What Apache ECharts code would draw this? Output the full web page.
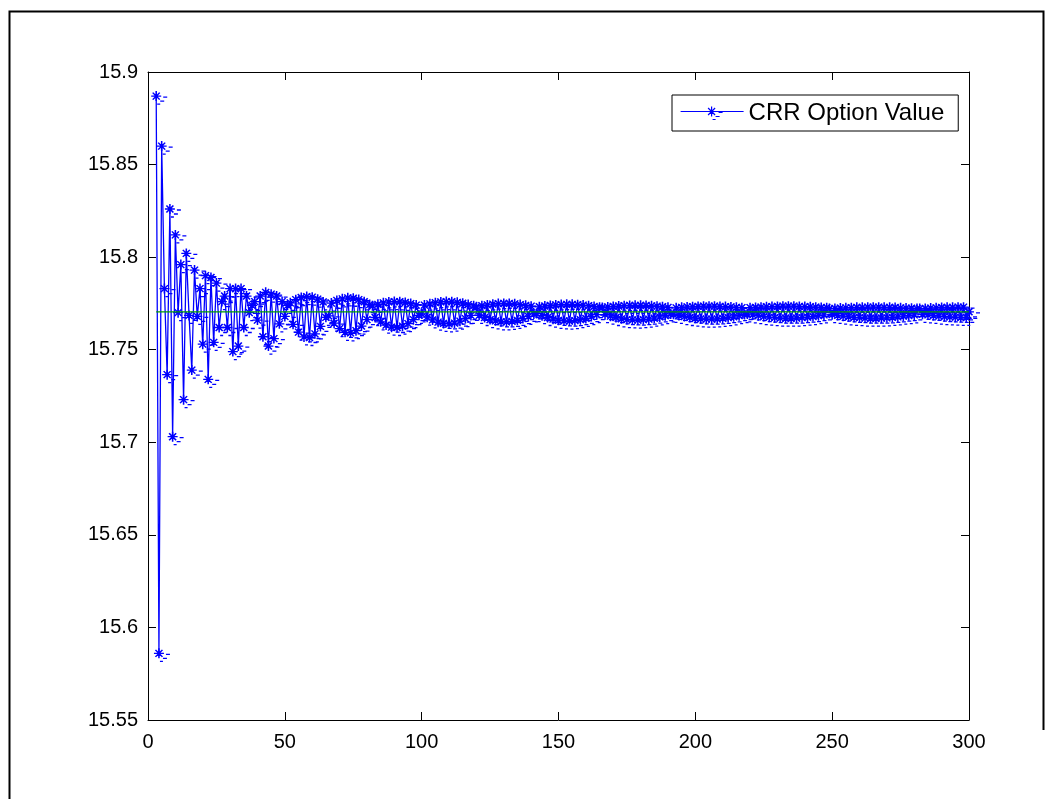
<!DOCTYPE html>
<html>
<head>
<meta charset="utf-8">
<script src="https://cdn.jsdelivr.net/npm/echarts@6/dist/echarts.min.js"></script>
<style>
html,body{margin:0;padding:0;background:#fff;}
#chart{width:1059px;height:799px;}
</style>
</head>
<body>
<div id="chart"></div>
<script>
// ---- data ----
const seriesName = 'CRR Option Value';
const firstStep = 3;           // first number of steps plotted
const lastStep = 300;
const blackScholesValue = 15.7704;  // green reference line
const xTickLabels = ['0', '50', '100', '150', '200', '250', '300'];
const yTickLabels = ['15.55', '15.6', '15.65', '15.7', '15.75', '15.8', '15.85', '15.9'];
const crrValues = [
  15.887, 15.586, 15.860, 15.783, 15.7365, 15.826, 15.703, 15.812,
  15.770, 15.796, 15.723, 15.802, 15.7685, 15.739, 15.793, 15.768, 15.783, 15.753,
  15.790, 15.734, 15.789, 15.754, 15.786, 15.762, 15.776, 15.779, 15.762, 15.783,
  15.749, 15.783, 15.752, 15.783, 15.762, 15.779, 15.770, 15.774, 15.776, 15.766,
  15.779, 15.757, 15.781, 15.752, 15.780, 15.756, 15.779, 15.764, 15.776, 15.768,
  15.774, 15.7753, 15.7637, 15.777, 15.7595, 15.7782, 15.7569, 15.7787, 15.7566, 15.7784,
  15.7586, 15.7773, 15.7626, 15.7758, 15.7675, 15.7683, 15.7752, 15.7643, 15.7766, 15.7614,
  15.7775, 15.7594, 15.778, 15.7591, 15.7778, 15.7603, 15.7771, 15.7628, 15.7759, 15.7663,
  15.7744, 15.7737, 15.7674, 15.7745, 15.7651, 15.7753, 15.7633, 15.7758, 15.7622, 15.776,
  15.762, 15.7759, 15.7627, 15.7755, 15.7641, 15.7749, 15.7662, 15.7741, 15.7686, 15.7694,
  15.7741, 15.7676, 15.7748, 15.7661, 15.7754, 15.7649, 15.7758, 15.7642, 15.776, 15.764,
  15.7759, 15.7644, 15.7756, 15.7654, 15.7751, 15.7668, 15.7744, 15.7685, 15.7737, 15.7732,
  15.7686, 15.7738, 15.7674, 15.7742, 15.7663, 15.7746, 15.7656, 15.7749, 15.7651, 15.775,
  15.765, 15.775, 15.7653, 15.7748, 15.7659, 15.7744, 15.7668, 15.774, 15.768, 15.7735,
  15.7693, 15.7695, 15.7732, 15.7684, 15.7736, 15.7674, 15.7739, 15.7665, 15.7742, 15.7659,
  15.7744, 15.7656, 15.7745, 15.7655, 15.7745, 15.7657, 15.7743, 15.7662, 15.7741, 15.7669,
  15.7738, 15.7679, 15.7734, 15.7689, 15.773, 15.7728, 15.7689, 15.7731, 15.7681, 15.7734,
  15.7674, 15.7736, 15.7667, 15.7738, 15.7663, 15.7739, 15.7661, 15.774, 15.766, 15.774,
  15.7662, 15.7739, 15.7665, 15.7737, 15.767, 15.7735, 15.7677, 15.7732, 15.7684, 15.7729,
  15.7693, 15.7691, 15.7726, 15.7685, 15.7729, 15.7679, 15.7731, 15.7674, 15.7732, 15.767,
  15.7734, 15.7667, 15.7735, 15.7665, 15.7735, 15.7665, 15.7735, 15.7666, 15.7734, 15.7669,
  15.7733, 15.7673, 15.7731, 15.7678, 15.7729, 15.7684, 15.7727, 15.769, 15.7693, 15.7727,
  15.7688, 15.7728, 15.7684, 15.773, 15.7679, 15.7732, 15.7676, 15.7733, 15.7673, 15.7734,
  15.7671, 15.7735, 15.767, 15.7735, 15.767, 15.7735, 15.7671, 15.7734, 15.7673, 15.7733,
  15.7676, 15.7732, 15.7679, 15.773, 15.7684, 15.7728, 15.7688, 15.7727, 15.7722, 15.7689,
  15.7723, 15.7685, 15.7725, 15.7681, 15.7726, 15.7678, 15.7727, 15.7675, 15.7729, 15.7673,
  15.7729, 15.7671, 15.773, 15.767, 15.773, 15.767, 15.773, 15.7671, 15.7729, 15.7672,
  15.7729, 15.7675, 15.7728, 15.7677, 15.7726, 15.7681, 15.7725, 15.7684, 15.7724, 15.7688,
  15.7722, 15.7722, 15.7691, 15.7723, 15.7688, 15.7725, 15.7685, 15.7726, 15.7682, 15.7728,
  15.7679, 15.7729, 15.7677, 15.7729, 15.7676, 15.773, 15.7675, 15.773, 15.7675, 15.7705
];

// ---- build series data ----
const crrData = crrValues.map((v, i) => [firstStep + i, v]);
const bsData = [[firstStep, blackScholesValue], [lastStep, blackScholesValue]];

// MATLAB-like '*' marker (with the small dash artefacts of the original rendering)
const starPath = 'path://M0 -5L0 5M-5 0L5 0M-3.5 -3.5L3.5 3.5M-3.5 3.5L3.5 -3.5M7 1L11 1M4 5L8 5M1 8L4 8';
// legend icon: line sample with the marker in it (63 x 13)
const legendIconPath = 'path://M0 5L63 5M31 0L31 10M26 5L36 5M27.5 1.5L34.5 8.5M27.5 8.5L34.5 1.5M38 6L42 6M35 10L39 10M32 13L35 13';

const X0 = 0, X1 = 300, XI = 50;
const Y0 = 15.55, Y1 = 15.9, YI = 0.05;
const font = 'Liberation Sans, Arial, sans-serif';
const yFmt = v => yTickLabels[Math.round((v - Y0) / YI)] || '';
const xFmt = v => xTickLabels[Math.round((v - X0) / XI)] || '';

const chart = echarts.init(document.getElementById('chart'), null, {renderer: 'canvas'});
const axisCommon = {
  type: 'value', min: X0, max: X1, interval: XI,
  axisLine: {show: true, onZero: false, lineStyle: {color: '#000', width: 1}},
  axisTick: {show: true, inside: true, length: 8, lineStyle: {color: '#000', width: 1}},
  splitLine: {show: false}
};
chart.setOption({
  animation: false,
  backgroundColor: '#fff',
  grid: {left: 148, top: 72, width: 821, height: 648, show: false},
  xAxis: [
    Object.assign({}, axisCommon, {position: 'bottom',
      axisLabel: {show: true, formatter: xFmt, color: '#000', fontSize: 20, fontFamily: font, margin: 12}}),
    Object.assign({}, axisCommon, {position: 'top', axisLabel: {show: false}})
  ],
  yAxis: [
    Object.assign({}, axisCommon, {min: Y0, max: Y1, interval: YI, position: 'left',
      axisLabel: {show: true, formatter: yFmt, color: '#000', fontSize: 20, fontFamily: font, margin: 10}}),
    Object.assign({}, axisCommon, {min: Y0, max: Y1, interval: YI, position: 'right', axisLabel: {show: false}})
  ],
  legend: {
    data: [{name: seriesName, icon: legendIconPath}],
    left: 672, top: 95,
    orient: 'vertical',
    backgroundColor: '#fff',
    borderColor: '#000', borderWidth: 1,
    padding: [6, 14, 6, 8],
    itemWidth: 63, itemHeight: 13, itemGap: 0,
    itemStyle: {color: 'rgba(0,0,0,0)', borderColor: '#0000ff', borderWidth: 1.2},
    textStyle: {color: '#000', fontSize: 24, fontFamily: font}
  },
  graphic: [{
    type: 'polyline', silent: true,
    shape: {points: [[9.5, 799], [9.5, 11.5], [1043.5, 11.5], [1043.5, 730]]},
    style: {stroke: '#000', lineWidth: 2, fill: null}
  }],
  series: [
    {
      name: seriesName, type: 'line', data: crrData,
      xAxisIndex: 0, yAxisIndex: 0,
      showSymbol: true, showAllSymbol: true,
      symbol: starPath, symbolSize: [16, 13], symbolOffset: [3, 1.5],
      lineStyle: {color: '#0000ff', width: 1.3},
      itemStyle: {color: 'rgba(0,0,0,0)', borderColor: '#0000ff', borderWidth: 1.4},
      emphasis: {disabled: true},
      z: 2
    },
    {
      name: 'Black-Scholes', type: 'line', data: bsData,
      xAxisIndex: 0, yAxisIndex: 0, showSymbol: false,
      lineStyle: {color: '#009900', width: 1.2},
      emphasis: {disabled: true},
      z: 3
    }
  ]
});
</script>
</body>
</html>
